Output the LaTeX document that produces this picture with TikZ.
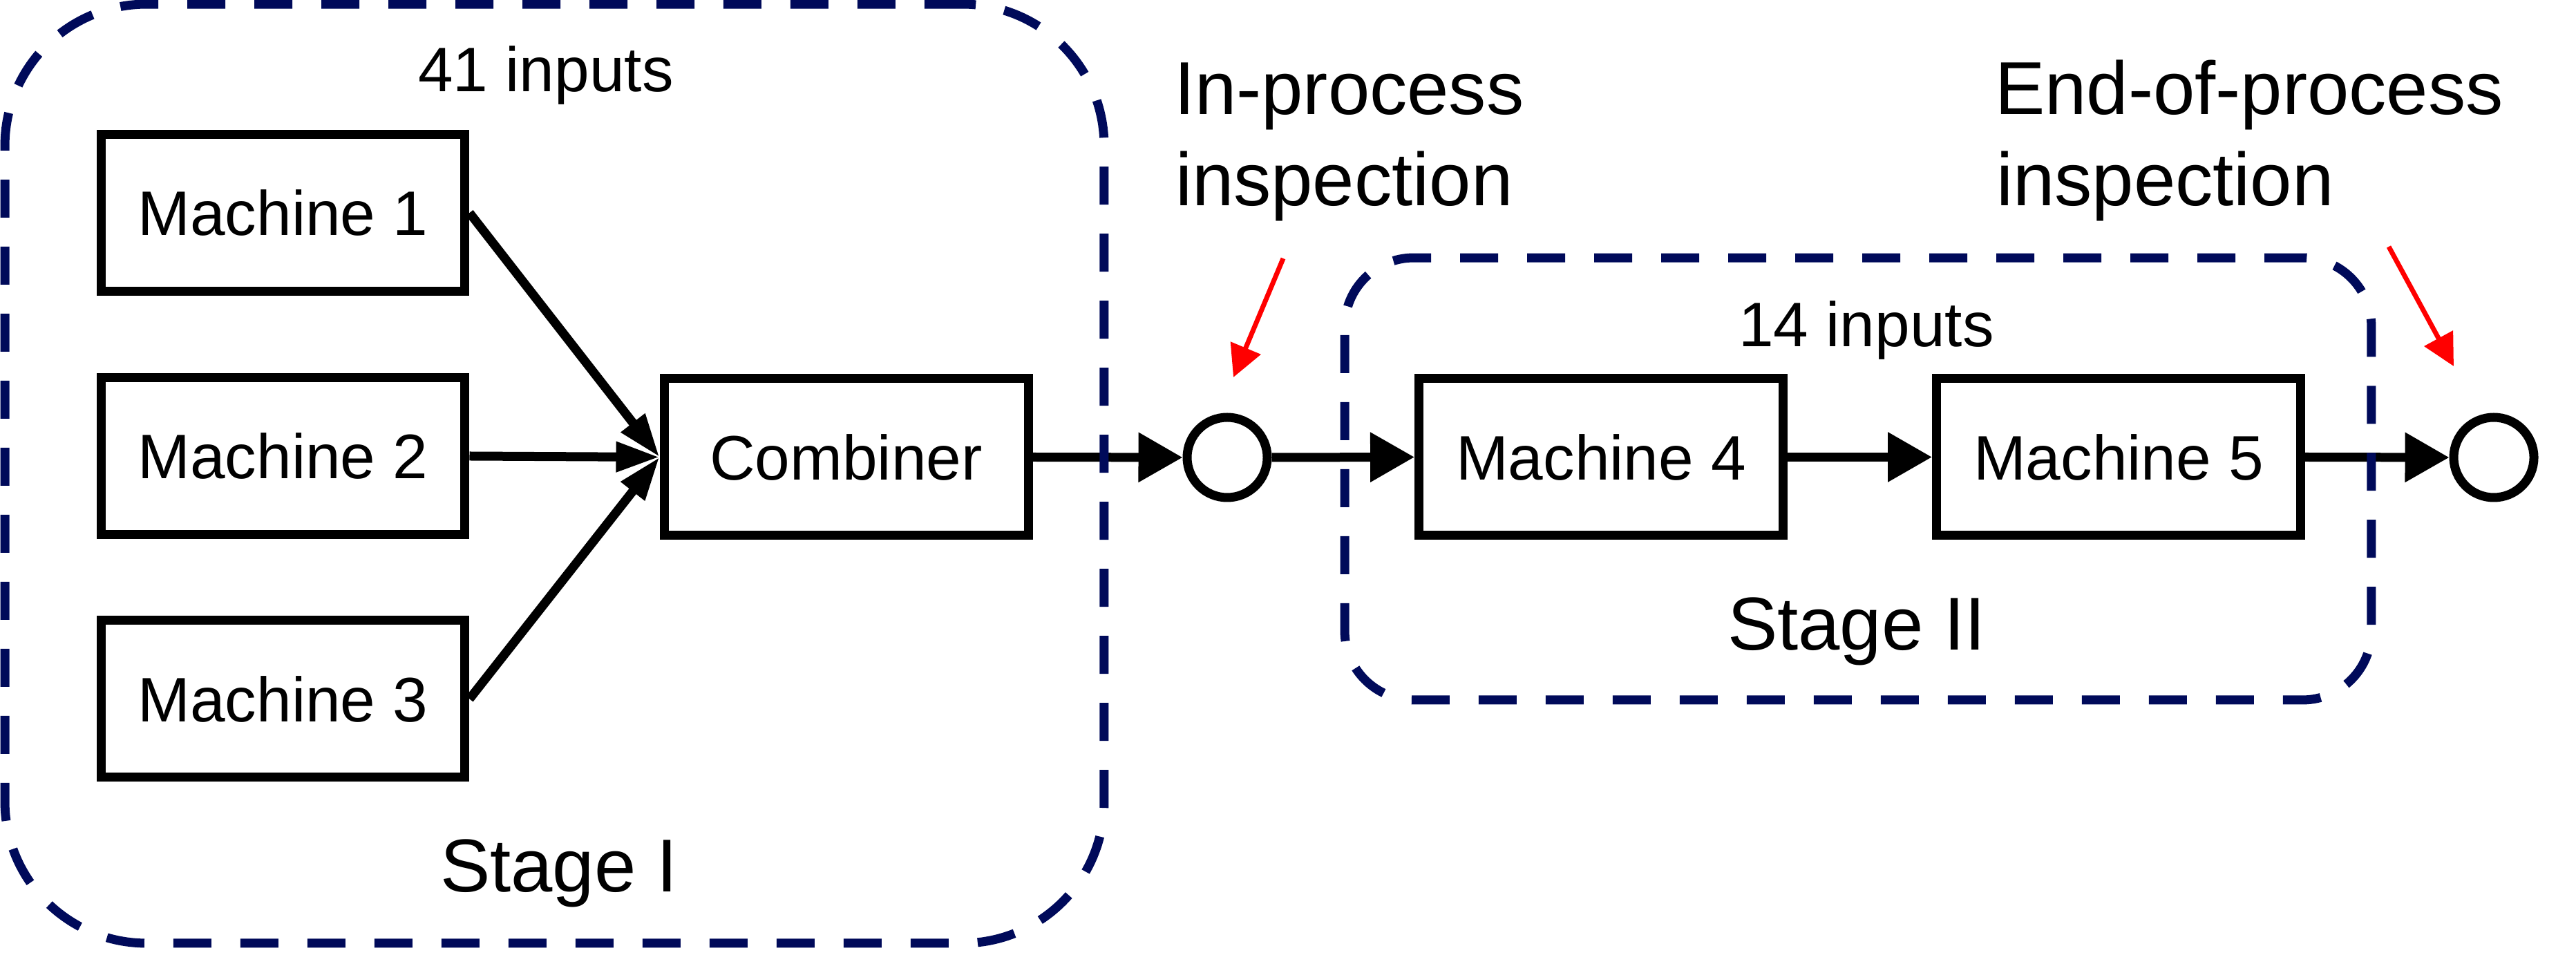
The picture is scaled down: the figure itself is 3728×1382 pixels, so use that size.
\documentclass[tikz,border=0pt]{standalone}
\usepackage{fontspec}
\setmainfont{Liberation Sans}
\usetikzlibrary{arrows.meta}
\definecolor{framenavy}{RGB}{0,10,90}
\begin{document}
\begin{tikzpicture}[x=0.1pt,y=-0.1pt,
  machbox/.style={draw, line width=1.3pt, minimum width=52.7pt, minimum height=22.7pt, inner sep=0pt, font=\fontsize{9.1}{11}\selectfont},
  insp/.style={draw, circle, line width=1.3pt, minimum size=11.6pt, inner sep=0pt},
  flow/.style={line width=1.3pt, -{Triangle[length=6.4pt,width=6.9pt]}},
  feed/.style={line width=1.3pt, -{Triangle[length=6.3pt,width=4.1pt]}},
  stageframe/.style={draw=framenavy, line width=1.3pt, dash pattern=on 5.5pt off 4.2pt, inner sep=0pt},
  redarrow/.style={draw=red, line width=0.7pt, -{Triangle[length=4.6pt,width=4.6pt]}},
  lbl/.style={font=\fontsize{9.1}{11}\selectfont, inner sep=0pt, anchor=base},
  biglbl/.style={font=\fontsize{10.85}{13}\selectfont, inner sep=0pt}
]
\useasboundingbox (0,0) rectangle (3728,1382);

% machines
\node[machbox] (m1) at (409.5,308) {Machine 1};
\node[machbox] (m2) at (409.5,660) {Machine 2};
\node[machbox] (m3) at (409.5,1011.5) {Machine 3};
\node[machbox] (comb) at (1224.5,661.5) {Combiner};
\node[machbox] (m4) at (2317,661.5) {Machine 4};
\node[machbox] (m5) at (3066,661.5) {Machine 5};

% inspection points
\node[insp] (c1) at (1776,662) {};
\node[insp] (c2) at (3609,662) {};

% flow arrows
\draw[feed] (m1.east) -- (comb.west);
\draw[feed] (m2.east) -- (comb.west);
\draw[feed] (m3.east) -- (comb.west);
\draw[flow] (comb.east) -- (c1.west);
\draw[flow] (c1.east) -- (m4.west);
\draw[flow] (m4.east) -- (m5.west);
\draw[flow] (m5.east) -- (c2.west);

% stage frames
\node[stageframe, rounded corners=20.5pt, minimum width=159.1pt, minimum height=135.9pt] (s1) at (802.5,685.5) {};
\node[stageframe, rounded corners=10pt, minimum width=148.6pt, minimum height=64pt] (s2) at (2689,693) {};

% labels
\node[lbl] (in1) at (790,133) {41 inputs};
\node[lbl] (in2) at (2701,502) {14 inputs};
\node[biglbl, anchor=base] (st1) at (809,1290) {Stage I};
\node[biglbl, anchor=base] (st2) at (2687,941) {Stage II};
\node[biglbl, anchor=base west] (ip1) at (1697,166) {In-process};
\node[biglbl, anchor=base west] (ip2) at (1699,298) {inspection};
\node[biglbl, anchor=base west] (ep1) at (2885,166) {End-of-process};
\node[biglbl, anchor=base west] (ep2) at (2887,298) {inspection};

% red pointers
\coordinate (r1s) at (1857,374);
\coordinate (r1e) at (1785,546);
\coordinate (r2s) at (3457,357);
\coordinate (r2e) at (3551,530);
\draw[redarrow] (r1s) -- (r1e);
\draw[redarrow] (r2s) -- (r2e);
\end{tikzpicture}
\end{document}
